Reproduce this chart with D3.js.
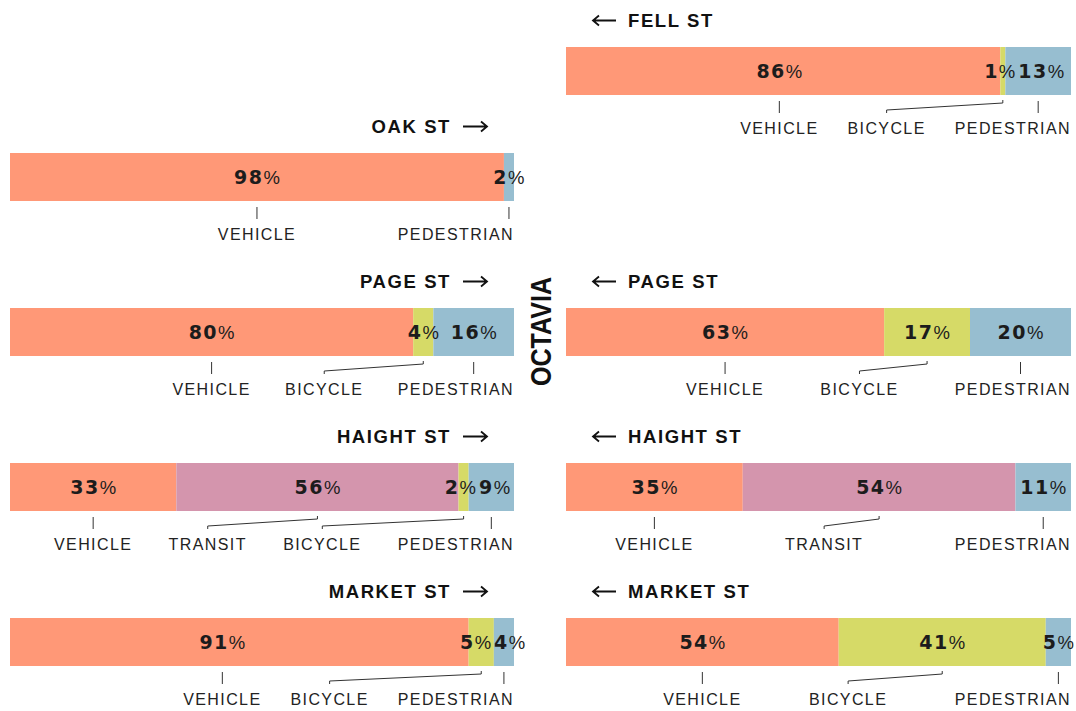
<!DOCTYPE html>
<html>
<head>
<meta charset="utf-8">
<script src="https://cdn.jsdelivr.net/npm/d3@7"></script>
<style>
  body { margin: 0; background: #fff; }
  svg { display: block; font-family: "Liberation Sans", Arial, sans-serif; }
</style>
</head>
<body>
<div id="chart"></div>
<script>
// mode share at each Octavia crossing, one entry per bar
const barStreet = ["FELL ST", "OAK ST", "PAGE ST", "PAGE ST", "HAIGHT ST", "HAIGHT ST", "MARKET ST", "MARKET ST"];
const barDirection = ["west", "east", "east", "west", "east", "west", "east", "west"];
const modes = ["VEHICLE", "TRANSIT", "BICYCLE", "PEDESTRIAN"];
const vehicleShare = [86, 98, 80, 63, 33, 35, 91, 54];
const transitShare = [0, 0, 0, 0, 56, 54, 0, 0];
const bicycleShare = [1, 0, 4, 17, 2, 0, 5, 41];
const pedestrianShare = [13, 2, 16, 20, 9, 11, 4, 5];
const crossStreet = "OCTAVIA";

const width = 1076;
const height = 711;
const barH = 48;
const minGap = 29;

const color = d3.scaleOrdinal()
  .domain(modes)
  .range(["#ff9877", "#d495ad", "#d6da67", "#97bed0"]);

const rowY = d3.scaleOrdinal()
  .domain(["FELL ST", "OAK ST", "PAGE ST", "HAIGHT ST", "MARKET ST"])
  .range([47, 153, 308, 463, 618]);

const xScales = {
  east: d3.scaleLinear().domain([0, 100]).range([10, 514]),
  west: d3.scaleLinear().domain([0, 100]).range([566, 1071])
};

const bars = barStreet.map((s, i) => {
  const vals = [vehicleShare[i], transitShare[i], bicycleShare[i], pedestrianShare[i]];
  let acc = 0;
  const segs = [];
  vals.forEach((v, j) => {
    if (v > 0) segs.push({ mode: modes[j], value: v, x0: acc, x1: acc + v });
    acc += v;
  });
  return { street: s, dir: barDirection[i], segs };
});

const svg = d3.select("#chart").append("svg")
  .attr("width", width)
  .attr("height", height);

// cross street label down the middle
svg.append("text")
  .attr("transform", "translate(551,331.5) rotate(-90)")
  .attr("text-anchor", "middle")
  .attr("font-size", 29)
  .attr("font-weight", "bold")
  .attr("fill", "#111")
  .attr("textLength", 109)
  .attr("lengthAdjust", "spacingAndGlyphs")
  .text(crossStreet);

bars.forEach(bar => {
  const x = xScales[bar.dir];
  const [r0, r1] = x.range();
  const top = rowY(bar.street);
  const bottom = top + barH;
  const g = svg.append("g");

  // title with direction arrow
  const ty = top - 20;
  const ay = ty - 6.5;
  const arrow = g.append("path")
    .attr("fill", "none")
    .attr("stroke", "#111")
    .attr("stroke-width", 1.8);
  if (bar.dir === "east") {
    g.append("text")
      .attr("x", r1 - 63).attr("y", ty)
      .attr("text-anchor", "end")
      .attr("font-size", 18.5).attr("font-weight", "bold")
      .attr("letter-spacing", 1.6).attr("fill", "#111")
      .text(bar.street);
    const a = r1 - 51, b = r1 - 27;
    arrow.attr("d", `M${a},${ay}H${b}M${b - 6},${ay - 5}L${b},${ay}L${b - 6},${ay + 5}`);
  } else {
    g.append("text")
      .attr("x", r0 + 62).attr("y", ty)
      .attr("font-size", 18.5).attr("font-weight", "bold")
      .attr("letter-spacing", 1.6).attr("fill", "#111")
      .text(bar.street);
    const a = r0 + 27, b = r0 + 50;
    arrow.attr("d", `M${b},${ay}H${a}M${a + 6},${ay - 5}L${a},${ay}L${a + 6},${ay + 5}`);
  }

  // segments
  g.selectAll("rect.seg")
    .data(bar.segs)
    .join("rect")
    .attr("class", "seg")
    .attr("x", d => x(d.x0))
    .attr("y", top)
    .attr("width", d => x(d.x1) - x(d.x0))
    .attr("height", barH)
    .attr("fill", d => color(d.mode));

  // category labels under the bar
  const labels = g.selectAll("text.cat")
    .data(bar.segs)
    .join("text")
    .attr("class", "cat")
    .attr("y", bottom + 38.5)
    .attr("text-anchor", "middle")
    .attr("font-size", 16)
    .attr("letter-spacing", 1.4)
    .attr("fill", "#222")
    .text(d => d.mode);

  labels.each(function (d) {
    d.lw = this.getComputedTextLength();
    d.cx = x((d.x0 + d.x1) / 2);
  });

  const segs = bar.segs;
  const n = segs.length;
  const first = segs[0], last = segs[n - 1];
  first.lx = Math.max(first.cx, r0 + first.lw / 2);
  last.lx = Math.min(last.cx, r1 - last.lw / 2);
  if (n > 2) {
    const mid = segs.slice(1, n - 1);
    const midW = d3.sum(mid, d => d.lw);
    let gap = ((last.lx - last.lw / 2) - (first.lx + first.lw / 2) - midW) / (n - 1);
    if (gap < minGap) {
      first.lx -= (minGap - gap) * (n - 1);
      gap = minGap;
    }
    let cur = first.lx + first.lw / 2 + gap;
    mid.forEach(d => {
      d.lx = cur + d.lw / 2;
      cur += d.lw + gap;
    });
  }
  first.tx = first.lx;
  segs.slice(1).forEach(d => { d.tx = d.cx; });

  labels.attr("x", d => d.lx);

  // ticks and leader lines
  g.selectAll("path.tick")
    .data(segs)
    .join("path")
    .attr("class", "tick")
    .attr("fill", "none")
    .attr("stroke", "#333")
    .attr("stroke-width", 1)
    .attr("d", d => {
      const inside = d.tx >= d.lx - d.lw / 2 && d.tx <= d.lx + d.lw / 2;
      if (inside) return `M${d.tx},${bottom + 6}V${bottom + 18}`;
      return `M${d.tx},${bottom + 5}V${bottom + 8}L${d.lx},${bottom + 15}V${bottom + 18}`;
    });

  // percentage labels inside the bar
  const pct = g.selectAll("text.pct")
    .data(segs)
    .join("text")
    .attr("class", "pct")
    .attr("y", top + 30.5)
    .attr("text-anchor", "middle")
    .attr("fill", "#1c1c1c");
  pct.append("tspan")
    .attr("font-family", "'DejaVu Sans', sans-serif")
    .attr("font-size", 19)
    .attr("font-weight", "bold")
    .attr("letter-spacing", 1.5)
    .text(d => d.value);
  pct.append("tspan")
    .attr("font-size", 18.5)
    .text("%");

  pct.each(function (d) {
    d.pw = this.getComputedTextLength();
    d.px = d === first ? first.lx : d.cx;
  });
  for (let k = 0; k < 30; k++) {
    for (let i = 0; i < n - 1; i++) {
      const a = segs[i], b = segs[i + 1];
      const overlap = (a.px + a.pw / 2 + 3) - (b.px - b.pw / 2);
      if (overlap > 0) {
        a.px -= overlap / 2;
        b.px += overlap / 2;
      }
    }
  }
  pct.attr("x", d => d.px);
});
</script>
</body>
</html>
